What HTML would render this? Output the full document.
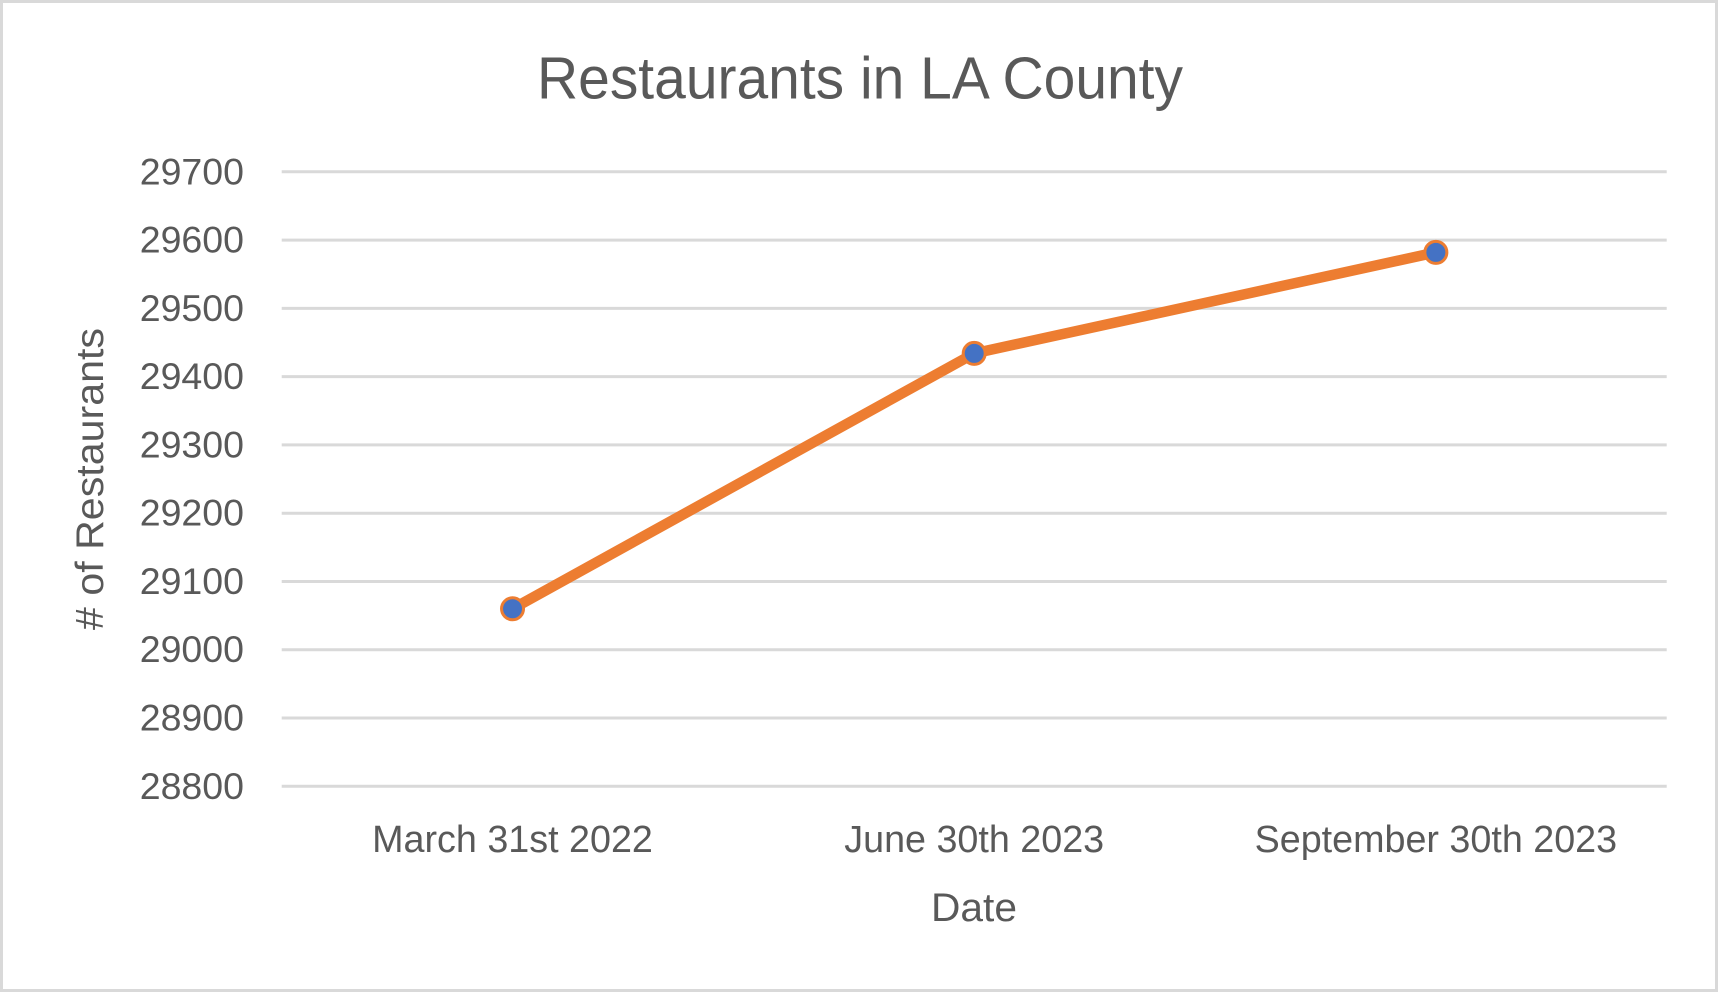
<!DOCTYPE html>
<html>
<head>
<meta charset="utf-8">
<title>Restaurants in LA County</title>
<style>
  html, body { margin: 0; padding: 0; background: #fff; }
  svg { display: block; }
  text { font-family: "Liberation Sans", sans-serif; fill: #595959; }
</style>
</head>
<body>
<svg id="chart" xmlns="http://www.w3.org/2000/svg" width="1718" height="992" viewBox="0 0 1718 992">
  <rect x="1.5" y="1.5" width="1715" height="989" fill="#fff" stroke="#d9d9d9" stroke-width="3"/>
  <text x="860" y="98.5" font-size="59" text-anchor="middle" textLength="646" lengthAdjust="spacingAndGlyphs">Restaurants in LA County</text>
  <text x="974" y="921" font-size="40" text-anchor="middle" textLength="86" lengthAdjust="spacingAndGlyphs">Date</text>
  <text transform="translate(103 479) rotate(-90)" font-size="39" text-anchor="middle" textLength="302" lengthAdjust="spacingAndGlyphs"># of Restaurants</text>
</svg>
<script>
const categories = ["March 31st 2022", "June 30th 2023", "September 30th 2023"];
const restaurantCounts = [29060, 29434, 29582];
const yTickLabels = [28800, 28900, 29000, 29100, 29200, 29300, 29400, 29500, 29600, 29700];

const NS = "http://www.w3.org/2000/svg";
const svg = document.getElementById("chart");
const plot = { left: 281.7, right: 1666.7, top: 171.8, bottom: 786.3 };
const yMin = yTickLabels[0];
const yMax = yTickLabels[yTickLabels.length - 1];

function xScale(index) {
  return plot.left + (plot.right - plot.left) * (index + 0.5) / categories.length;
}
function yScale(value) {
  return plot.bottom - (plot.bottom - plot.top) * (value - yMin) / (yMax - yMin);
}
function make(tag, attrs, parent) {
  const el = document.createElementNS(NS, tag);
  for (const key in attrs) el.setAttribute(key, attrs[key]);
  parent.appendChild(el);
  return el;
}

yTickLabels.forEach(function (tick) {
  const y = yScale(tick);
  const grid = make("line", { x1: plot.left, x2: plot.right, y1: y, y2: y, stroke: "#d9d9d9", "stroke-width": 3 }, svg);
  
  
  const label = make("text", { x: 244, y: y + 12.5, "font-size": 37.5, "text-anchor": "end" }, svg);
  
  
  label.textContent = tick;
});

categories.forEach(function (category, i) {
  const label = make("text", { x: xScale(i), y: 852, "font-size": 37.7, "text-anchor": "middle" }, svg);
  
  
  label.textContent = category;
});

const linePoints = restaurantCounts.map(function (value, i) {
  return xScale(i) + "," + yScale(value);
}).join(" ");
const line = make("polyline", { points: linePoints, fill: "none", stroke: "#ed7d31", "stroke-width": 10.5, "stroke-linejoin": "round", "stroke-linecap": "round" }, svg);



restaurantCounts.forEach(function (value, i) {
  const point = make("circle", { cx: xScale(i), cy: yScale(value), r: 11, fill: "#4472c4", stroke: "#ed7d31", "stroke-width": 3 }, svg);
  
  
});
</script>
</body>
</html>
